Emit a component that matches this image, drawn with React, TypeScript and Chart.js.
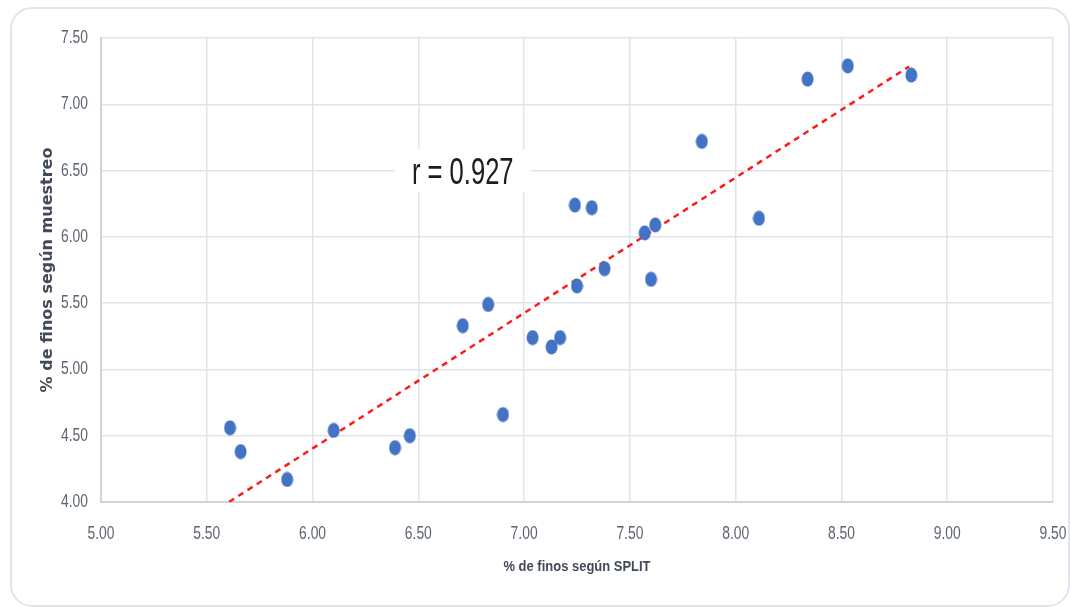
import React, { useEffect, useRef } from "react";
import { Chart, registerables } from "chart.js";

Chart.register(...registerables);

const splitValues = [5.61, 5.66, 5.88, 6.10, 6.39, 6.46, 6.71, 6.83, 6.90, 7.04, 7.13, 7.17, 7.24, 7.25, 7.32, 7.38, 7.57, 7.60, 7.62, 7.84, 8.11, 8.34, 8.53, 8.83];
const muestreoValues = [4.56, 4.38, 4.17, 4.54, 4.41, 4.50, 5.33, 5.49, 4.66, 5.24, 5.17, 5.24, 6.24, 5.63, 6.22, 5.76, 6.03, 5.68, 6.09, 6.72, 6.14, 7.19, 7.29, 7.22];
const trendX = [5.605, 8.82];
const trendY = [4.0, 7.285];
const rLabel = "r = 0.927";
const rLabelPos = [6.71, 6.50];
const xTitle = "% de finos según SPLIT";
const yTitle = "% de finos según muestreo";

const sans = "'Liberation Sans', Arial, sans-serif";

function makeDot(): HTMLCanvasElement {
  const c = document.createElement("canvas");
  c.width = 13;
  c.height = 16;
  const g = c.getContext("2d")!;
  g.fillStyle = "#4472C4";
  g.beginPath();
  g.ellipse(6.5, 8, 6, 7.5, 0, 0, Math.PI * 2);
  g.fill();
  return c;
}

function squeezedText(ctx: any, text: string, x: number, y: number, sx: number, align: string, baseline: string) {
  ctx.save();
  ctx.translate(x, y);
  ctx.scale(sx, 1);
  ctx.textAlign = align;
  ctx.textBaseline = baseline;
  ctx.fillText(text, 0, 0);
  ctx.restore();
}

const textPlugin = {
  id: "texts",
  afterDraw(chart: any) {
    const { ctx, scales, chartArea } = chart;
    ctx.save();
    // tick labels
    ctx.fillStyle = "#5b6372";
    ctx.font = `18px ${sans}`;
    scales.x.ticks.forEach((t: any) => {
      const px = scales.x.getPixelForValue(t.value);
      squeezedText(ctx, Number(t.value).toFixed(2), px, chartArea.bottom + 32, 0.77, "center", "middle");
    });
    scales.y.ticks.forEach((t: any) => {
      const py = scales.y.getPixelForValue(t.value);
      squeezedText(ctx, Number(t.value).toFixed(2), chartArea.left - 13, py, 0.77, "right", "middle");
    });
    // x title
    ctx.fillStyle = "#434a57";
    ctx.font = `bold 15px ${sans}`;
    squeezedText(ctx, xTitle, (chartArea.left + chartArea.right) / 2, 571, 0.865, "center", "alphabetic");
    // r label
    const cx = scales.x.getPixelForValue(rLabelPos[0]);
    const cy = scales.y.getPixelForValue(rLabelPos[1]);
    ctx.fillStyle = "#ffffff";
    ctx.fillRect(cx - 68, cy - 21, 136, 43);
    ctx.fillStyle = "#1c1c1c";
    ctx.font = `36px ${sans}`;
    squeezedText(ctx, rLabel, cx, cy + 13, 0.71, "center", "alphabetic");
    ctx.restore();
  },
};

export default function App() {
  const ref = useRef<HTMLCanvasElement>(null);
  useEffect(() => {
    const dot = makeDot();
    const chart = new Chart(ref.current!, {
      type: "scatter",
      data: {
        datasets: [
          {
            label: "Datos",
            data: splitValues.map((x, i) => ({ x, y: muestreoValues[i] })),
            pointStyle: dot as any,
            pointRadius: 7,
            backgroundColor: "#4472C4",
            borderColor: "#4472C4",
          },
          {
            type: "line" as any,
            label: "Tendencia",
            data: trendX.map((x, i) => ({ x, y: trendY[i] })),
            borderColor: "#ff1a1a",
            borderWidth: 2.5,
            borderDash: [6, 5],
            pointRadius: 0,
            fill: false,
          } as any,
        ],
      },
      options: {
        animation: false,
        responsive: false,
        maintainAspectRatio: false,
        layout: { padding: { left: 0, right: 17, top: 38, bottom: 0 } },
        plugins: { legend: { display: false }, tooltip: { enabled: false } },
        scales: {
          x: {
            type: "linear",
            min: 5,
            max: 9.5,
            afterFit: (s: any) => { s.height = 105; },
            ticks: { stepSize: 0.5, display: false },
            grid: { color: "#dfe3ea", lineWidth: 1.5, drawTicks: false },
            border: { color: "#cfd5de", width: 2 },
          },
          y: {
            type: "linear",
            min: 4,
            max: 7.5,
            afterFit: (s: any) => { s.width = 101; },
            ticks: { stepSize: 0.5, display: false },
            grid: { color: "#dfe3ea", lineWidth: 1.5, drawTicks: false },
            border: { color: "#cfd5de", width: 2 },
            title: {
              display: true,
              text: yTitle,
              color: "#434a57",
              font: { family: "'DejaVu Sans', sans-serif", size: 16, weight: "bold" },
              padding: { top: 38, bottom: 0 },
            },
          },
        },
      },
      plugins: [textPlugin],
    });
    return () => chart.destroy();
  }, []);

  return (
    <div style={{ position: "fixed", left: 0, top: 0, width: 1070, height: 607, background: "#ffffff" }}>
      <div
        style={{
          position: "absolute",
          left: 10,
          top: 7,
          width: 1056,
          height: 596,
          border: "2px solid #e1e5eb",
          borderRadius: 22,
        }}
      />
      <canvas ref={ref} width={1070} height={607} style={{ position: "absolute", left: 0, top: 0 }} />
    </div>
  );
}
